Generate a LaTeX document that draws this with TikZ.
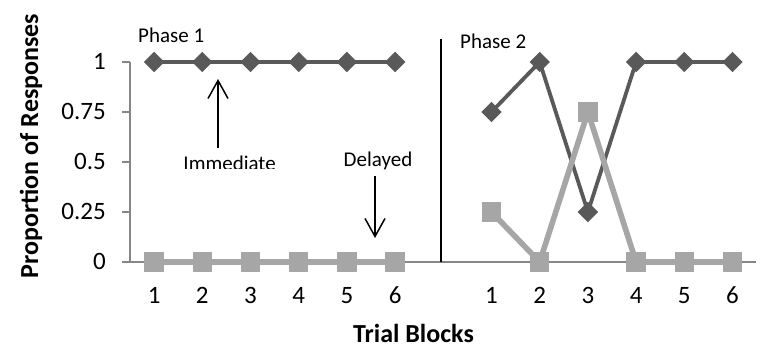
\documentclass[tikz,border=0pt]{standalone}
\usepackage{fontspec}
\setmainfont{Carlito}
\usetikzlibrary{arrows.meta,shapes.geometric}
\definecolor{darkser}{HTML}{595959}
\definecolor{lightser}{HTML}{A6A6A6}
\definecolor{axisgray}{HTML}{868686}
\begin{document}
\begin{tikzpicture}[x=1pt,y=-1pt,
  axisline/.style={draw=axisgray,line width=1.1pt},
  darkline/.style={draw=darkser,line width=3.8pt,line join=round},
  lightline/.style={draw=lightser,line width=5.6pt,line join=round},
  dmark/.style={shape=diamond,fill=darkser,draw=none,minimum width=20.5pt,minimum height=20.5pt,inner sep=0pt},
  smark/.style={shape=rectangle,fill=lightser,draw=none,minimum width=19.5pt,minimum height=19.5pt,inner sep=0pt},
  ticklab/.style={font=\fontsize{25}{29}\selectfont,inner sep=0pt},
  anntext/.style={font=\fontsize{21}{25}\selectfont,inner sep=0pt},
  titletext/.style={font=\fontsize{26}{30}\selectfont\bfseries,inner sep=0pt},
  arr/.style={draw=black,line width=1.5pt,-{Straight Barb[length=18pt,width=20pt]}}]
\useasboundingbox (0,0) rectangle (771,348);

% axes
\coordinate (ytop) at (130,62);
\coordinate (ybot) at (130,262);
\coordinate (xleft) at (122,262);
\coordinate (xright) at (756,262);
\draw[axisline] (ytop) -- (ybot);
\draw[axisline] (xleft) -- (xright);
\foreach \v/\n in {62/a,112/b,162/c,212/d}{
  \coordinate (tk\n) at (122,\v);
  \coordinate (tke\n) at (130,\v);
  \draw[axisline] (tk\n) -- (tke\n);
}
% y tick labels
\foreach \v/\t/\n in {62/1/a,112/0.75/b,162/0.5/c,212/0.25/d,262/0/e}{
  \node[ticklab,anchor=base east] (yl\n) at (106,\v+7.9) {\t};
}
% x tick labels
\foreach \x/\t/\n in {154.1/1/a,202.3/2/b,250.5/3/c,298.7/4/d,346.9/5/e,395.1/6/f,
                      491.5/1/g,539.7/2/h,587.9/3/i,636.1/4/j,684.3/5/k,732.5/6/l}{
  \node[ticklab,anchor=base] (xl\n) at (\x,303.5) {\t};
}

% separator
\coordinate (sepT) at (441,39);
\coordinate (sepB) at (441,262);
\draw[black,line width=1.5pt] (sepT) -- (sepB);

% data points
\foreach \x/\n in {154.1/1,202.3/2,250.5/3,298.7/4,346.9/5,395.1/6}{
  \coordinate (d\n) at (\x,62);
  \coordinate (l\n) at (\x,262);
}
\coordinate (D1) at (491.5,112);
\coordinate (D2) at (539.7,62);
\coordinate (D3) at (587.9,212);
\coordinate (D4) at (636.1,62);
\coordinate (D5) at (684.3,62);
\coordinate (D6) at (732.5,62);
\coordinate (L1) at (491.5,212);
\coordinate (L2) at (539.7,262);
\coordinate (L3) at (587.9,112);
\coordinate (L4) at (636.1,262);
\coordinate (L5) at (684.3,262);
\coordinate (L6) at (732.5,262);

% dark series
\draw[darkline] (d1) -- (d2) -- (d3) -- (d4) -- (d5) -- (d6);
\draw[darkline] (D1) -- (D2) -- (D3) -- (D4) -- (D5) -- (D6);
\foreach \n in {1,...,6}{
  \node[dmark] (md\n) at (d\n) {};
  \node[dmark] (mD\n) at (D\n) {};
}
% light series
\draw[lightline] (l1) -- (l2) -- (l3) -- (l4) -- (l5) -- (l6);
\draw[lightline] (L1) -- (L2) -- (L3) -- (L4) -- (L5) -- (L6);
\foreach \n in {1,...,6}{
  \node[smark] (ml\n) at (l\n) {};
  \node[smark] (mL\n) at (L\n) {};
}

% annotations
\node[anntext,anchor=base west] (ph1) at (138,42) {Phase 1};
\node[anntext,anchor=base west] (ph2) at (460,48) {Phase 2};
\begin{scope}
  \clip (150,140) rectangle (320,168);
  \node[anntext,anchor=base] (imm) at (229.6,170.5) {Immediate};
\end{scope}
\coordinate (ia1) at (218,148);
\coordinate (ia2) at (218,79);
\draw[arr] (ia1) -- (ia2);
\node[anntext,anchor=base] (del) at (378,166) {Delayed};
\coordinate (da1) at (375,176);
\coordinate (da2) at (375,238);
\draw[arr] (da1) -- (da2);

% titles
\node[titletext,anchor=base] (xt) at (413.5,342) {Trial Blocks};
\node[titletext,anchor=base,rotate=90] (yt) at (38,146) {Proportion of Responses};
\end{tikzpicture}
\end{document}
